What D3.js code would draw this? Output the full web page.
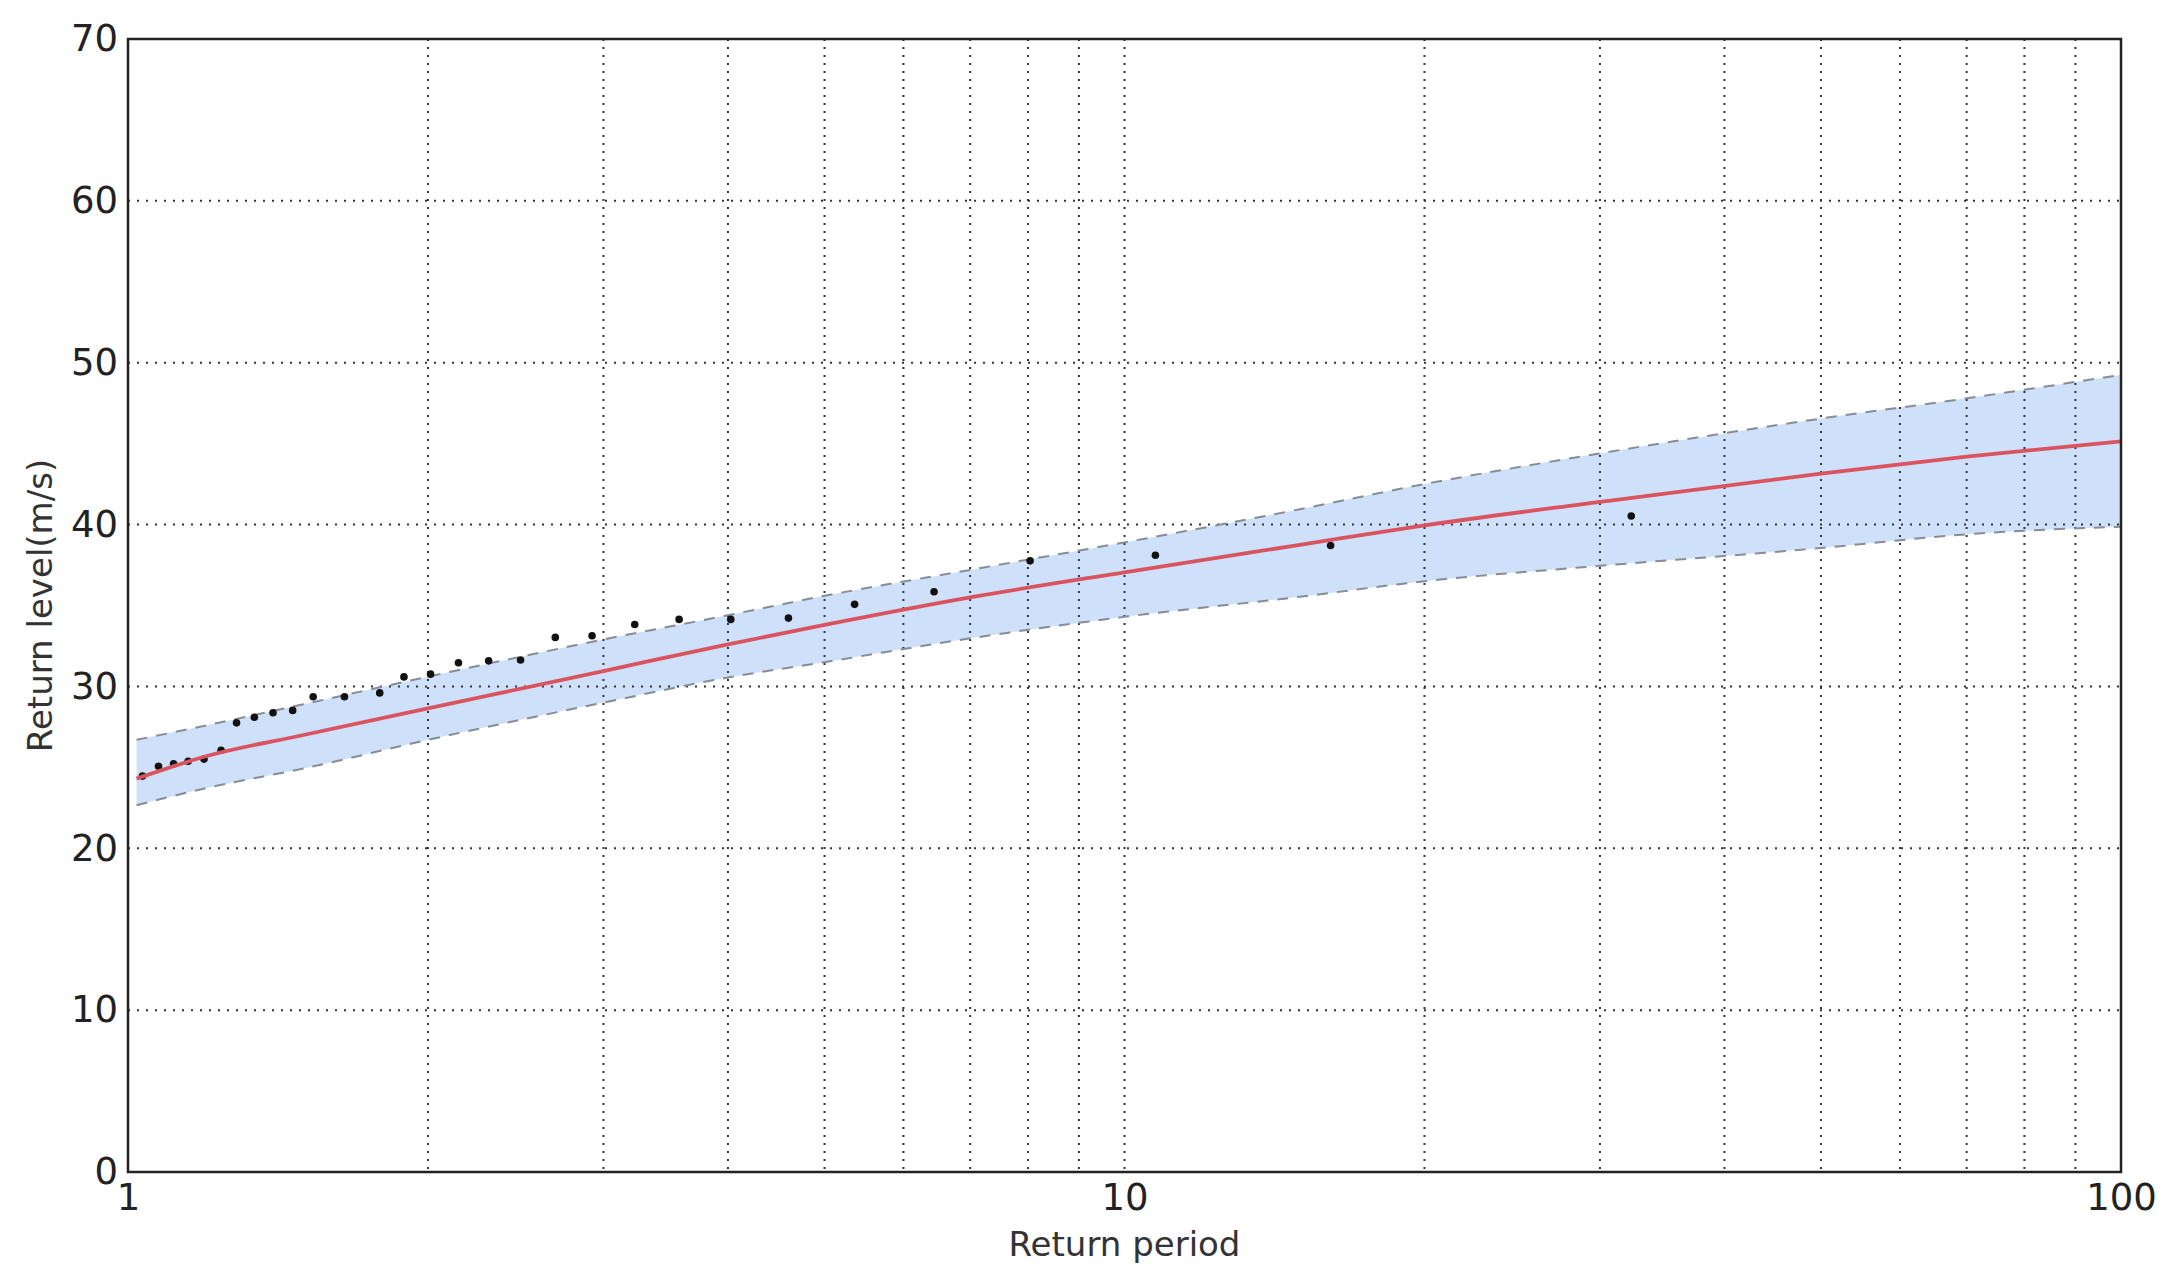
<!DOCTYPE html>
<html>
<head>
<meta charset="utf-8">
<script src="https://cdnjs.cloudflare.com/ajax/libs/d3/7.8.5/d3.min.js"></script>
<style>
body { margin: 0; background: #fff; }
svg { display: block; font-family: "DejaVu Sans", sans-serif; }
</style>
</head>
<body>
<div id="chart"></div>
<script>
// return periods where the fitted curve and its bounds were read
var periods = [1.02, 1.2, 1.5, 2, 3, 4, 5, 7, 10, 15, 20, 30, 50, 70, 100];
var levelFit = [24.3, 25.7, 27.0, 28.64, 30.95, 32.6, 33.8, 35.5, 37.05, 38.75, 39.95, 41.4, 43.15, 44.2, 45.14];
var levelUpper = [26.7, 27.6, 28.9, 30.6, 32.9, 34.4, 35.6, 37.2, 38.9, 40.95, 42.5, 44.4, 46.55, 47.8, 49.25];
var levelLower = [22.66, 23.73, 24.93, 26.7, 29.0, 30.55, 31.5, 32.97, 34.3, 35.54, 36.5, 37.45, 38.55, 39.4, 39.87];

// observed annual maxima (plotting positions)
var obsPeriod = [1.034, 1.073, 1.111, 1.149, 1.192, 1.24, 1.285, 1.339, 1.398, 1.463, 1.534, 1.649, 1.789, 1.892, 2.012, 2.146, 2.301, 2.477, 2.684, 2.922, 3.225, 3.573, 4.026, 4.6, 5.36, 6.44, 8.04, 10.74, 16.1, 32.25];
var obsLevel = [24.46, 25.07, 25.22, 25.38, 25.51, 26.06, 27.75, 28.1, 28.37, 28.52, 29.36, 29.36, 29.6, 30.59, 30.76, 31.46, 31.58, 31.63, 33.03, 33.13, 33.83, 34.14, 34.14, 34.22, 35.07, 35.85, 37.76, 38.1, 38.71, 40.53];

var yTicks = [0, 10, 20, 30, 40, 50, 60, 70];
var xTicks = [1, 10, 100];
var xGrid = [2, 3, 4, 5, 6, 7, 8, 9, 10, 20, 30, 40, 50, 60, 70, 80, 90];

var width = 2169, height = 1279;
var margin = { left: 128, right: 48, top: 39, bottom: 107 };

function buildSeries(xs, ys) {
	var out = [];
	for (var i = 0; i < xs.length; i++) {
		out.push({ x: xs[i], y: ys[i] });
	}
	return out;
}

function drawChart() {
	var svg = d3.select("#chart").append("svg")
		.attr("width", width).attr("height", height);

	var x = d3.scaleLog().domain([1, 100]).range([margin.left, width - margin.right]);
	var y = d3.scaleLinear().domain([0, 70]).range([height - margin.bottom, margin.top]);

	var x0 = x.range()[0], x1 = x.range()[1];
	var y0 = y.range()[0], y1 = y.range()[1];

	// confidence band
	var band = [];
	for (var i = 0; i < periods.length; i++) {
		band.push({ x: periods[i], lo: levelLower[i], hi: levelUpper[i] });
	}
	var area = d3.area().x(function(d) { return x(d.x); })
		.y0(function(d) { return y(d.lo); })
		.y1(function(d) { return y(d.hi); })
		.curve(d3.curveMonotoneX);
	svg.append("path").attr("d", area(band))
		.attr("fill", "#cfe1fa").attr("stroke", "none");

	// grid
	svg.append("g").selectAll("line").data(xGrid).enter().append("line")
		.attr("x1", function(d) { return x(d); }).attr("x2", function(d) { return x(d); })
		.attr("y1", y1).attr("y2", y0)
		.attr("stroke", "#333").attr("stroke-width", 2)
		.attr("stroke-dasharray", "2,6");
	svg.append("g").selectAll("line").data(yTicks.slice(1, -1)).enter().append("line")
		.attr("x1", x0).attr("x2", x1)
		.attr("y1", function(d) { return y(d); }).attr("y2", function(d) { return y(d); })
		.attr("stroke", "#333").attr("stroke-width", 2)
		.attr("stroke-dasharray", "2,7");

	// dashed bounds
	var line = d3.line().x(function(d) { return x(d.x); }).y(function(d) { return y(d.y); })
		.curve(d3.curveMonotoneX);
	svg.append("path").attr("d", line(buildSeries(periods, levelUpper)))
		.attr("fill", "none").attr("stroke", "#878c95").attr("stroke-width", 2)
		.attr("stroke-dasharray", "11,9");
	svg.append("path").attr("d", line(buildSeries(periods, levelLower)))
		.attr("fill", "none").attr("stroke", "#878c95").attr("stroke-width", 2)
		.attr("stroke-dasharray", "11,9");

	// observed points
	svg.append("g").selectAll("circle").data(buildSeries(obsPeriod, obsLevel)).enter()
		.append("circle")
		.attr("cx", function(d) { return x(d.x); })
		.attr("cy", function(d) { return y(d.y); })
		.attr("r", 3.8).attr("fill", "#111");

	// fitted curve
	svg.append("path").attr("d", line(buildSeries(periods, levelFit)))
		.attr("fill", "none").attr("stroke", "#d9545f").attr("stroke-width", 3.8);

	// frame
	svg.append("rect").attr("x", x0).attr("y", y1)
		.attr("width", x1 - x0).attr("height", y0 - y1)
		.attr("fill", "none").attr("stroke", "#222").attr("stroke-width", 2.5);

	// axes
	var yAxis = d3.axisLeft(y).tickValues(yTicks).tickSize(0).tickPadding(10)
		.tickFormat(d3.format("d"));
	var gy = svg.append("g").attr("transform", "translate(" + x0 + ",0)").call(yAxis);
	gy.select(".domain").remove();
	gy.selectAll("text").attr("font-size", 37).attr("fill", "#222")
		.attr("font-family", "DejaVu Sans");

	var xAxis = d3.axisBottom(x).tickValues(xTicks).tickSize(0).tickPadding(12)
		.tickFormat(d3.format("d"));
	var gx = svg.append("g").attr("transform", "translate(0," + y0 + ")").call(xAxis);
	gx.select(".domain").remove();
	gx.selectAll("text").attr("font-size", 37).attr("fill", "#222")
		.attr("font-family", "DejaVu Sans");

	// labels
	svg.append("text").attr("x", (x0 + x1) / 2).attr("y", 1256)
		.attr("text-anchor", "middle").attr("font-size", 34).attr("fill", "#333")
		.text("Return period");
	svg.append("text")
		.attr("transform", "translate(52," + ((y0 + y1) / 2) + ") rotate(-90)")
		.attr("text-anchor", "middle").attr("font-size", 34).attr("fill", "#333")
		.text("Return level(m/s)");
}

drawChart();
</script>
</body>
</html>
